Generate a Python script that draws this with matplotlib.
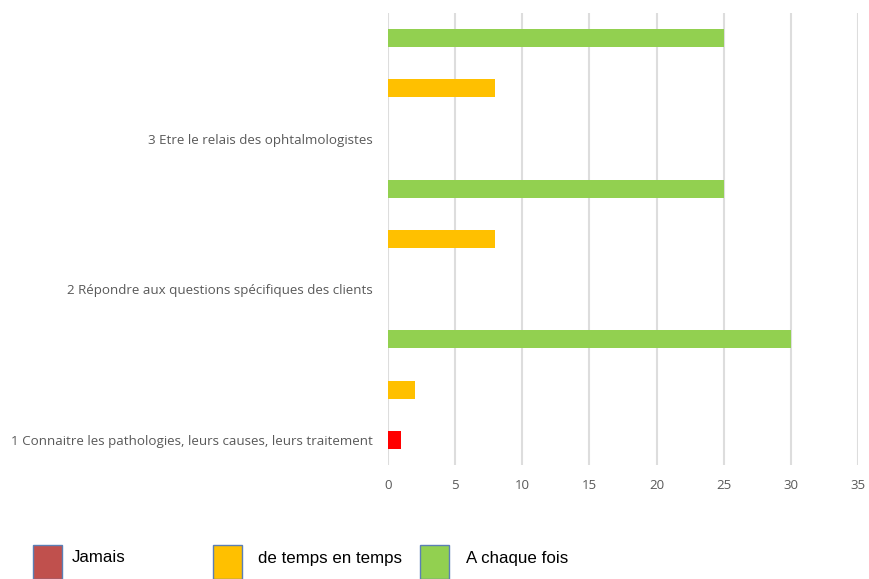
import matplotlib.pyplot as plt
import matplotlib.patches as mpatches
import numpy as np

categories = ['1 Connaitre les pathologies, leurs causes, leurs traitement',
              '2 Répondre aux questions spécifiques des clients',
              '3 Etre le relais des ophtalmologistes']
series = ['Jamais', 'de temps en temps', 'A chaque fois']
jamais = [1, 0, 0]
temps = [2, 8, 8]
chaque = [30, 25, 25]
xticks = [0, 5, 10, 15, 20, 25, 30, 35]

bar_colors = ['#FF0000', '#FFC000', '#92D050']
legend_colors = ['#C0504D', '#FFC000', '#92D050']

fig = plt.figure(figsize=(8.69, 5.79), dpi=100)
ax = fig.add_axes([388 / 869, 1 - 465 / 579, 470 / 869, 452 / 579])

base = np.arange(len(categories)) * 3
for k, vals in enumerate([jamais, temps, chaque]):
    ax.barh(base + k, vals, height=0.36, color=bar_colors[k], zorder=3)

ax.set_xlim(0, 35)
ax.set_ylim(-0.5, 8.5)
ax.set_xticks(xticks)
ax.set_xticklabels([str(t) for t in xticks], fontsize=9.5, color='#595959',
                   family='Open Sans')
ax.set_yticks(base)
ax.set_yticklabels(categories, fontsize=9.6, color='#595959', family='Open Sans')
ax.tick_params(axis='both', length=0)
ax.tick_params(axis='y', pad=11)
ax.tick_params(axis='x', pad=10)
ax.grid(axis='x', color='#DDDDDD', linewidth=1.5, zorder=0)
for s in ax.spines.values():
    s.set_visible(False)

# legend drawn at the bottom of the figure
box_x = [33, 213, 420]
text_x = [72, 258, 466]
for i, name in enumerate(series):
    fig.patches.append(mpatches.Rectangle((box_x[i] / 869, 0), 29 / 869, 34 / 579,
                                          transform=fig.transFigure,
                                          facecolor=legend_colors[i],
                                          edgecolor='#5B7FB5', linewidth=1.0))
    fig.text(text_x[i] / 869, 1 - 558 / 579, name, fontsize=12.2,
             family='Liberation Sans', va='center', ha='left')

fig.savefig('out.png', dpi=100)
